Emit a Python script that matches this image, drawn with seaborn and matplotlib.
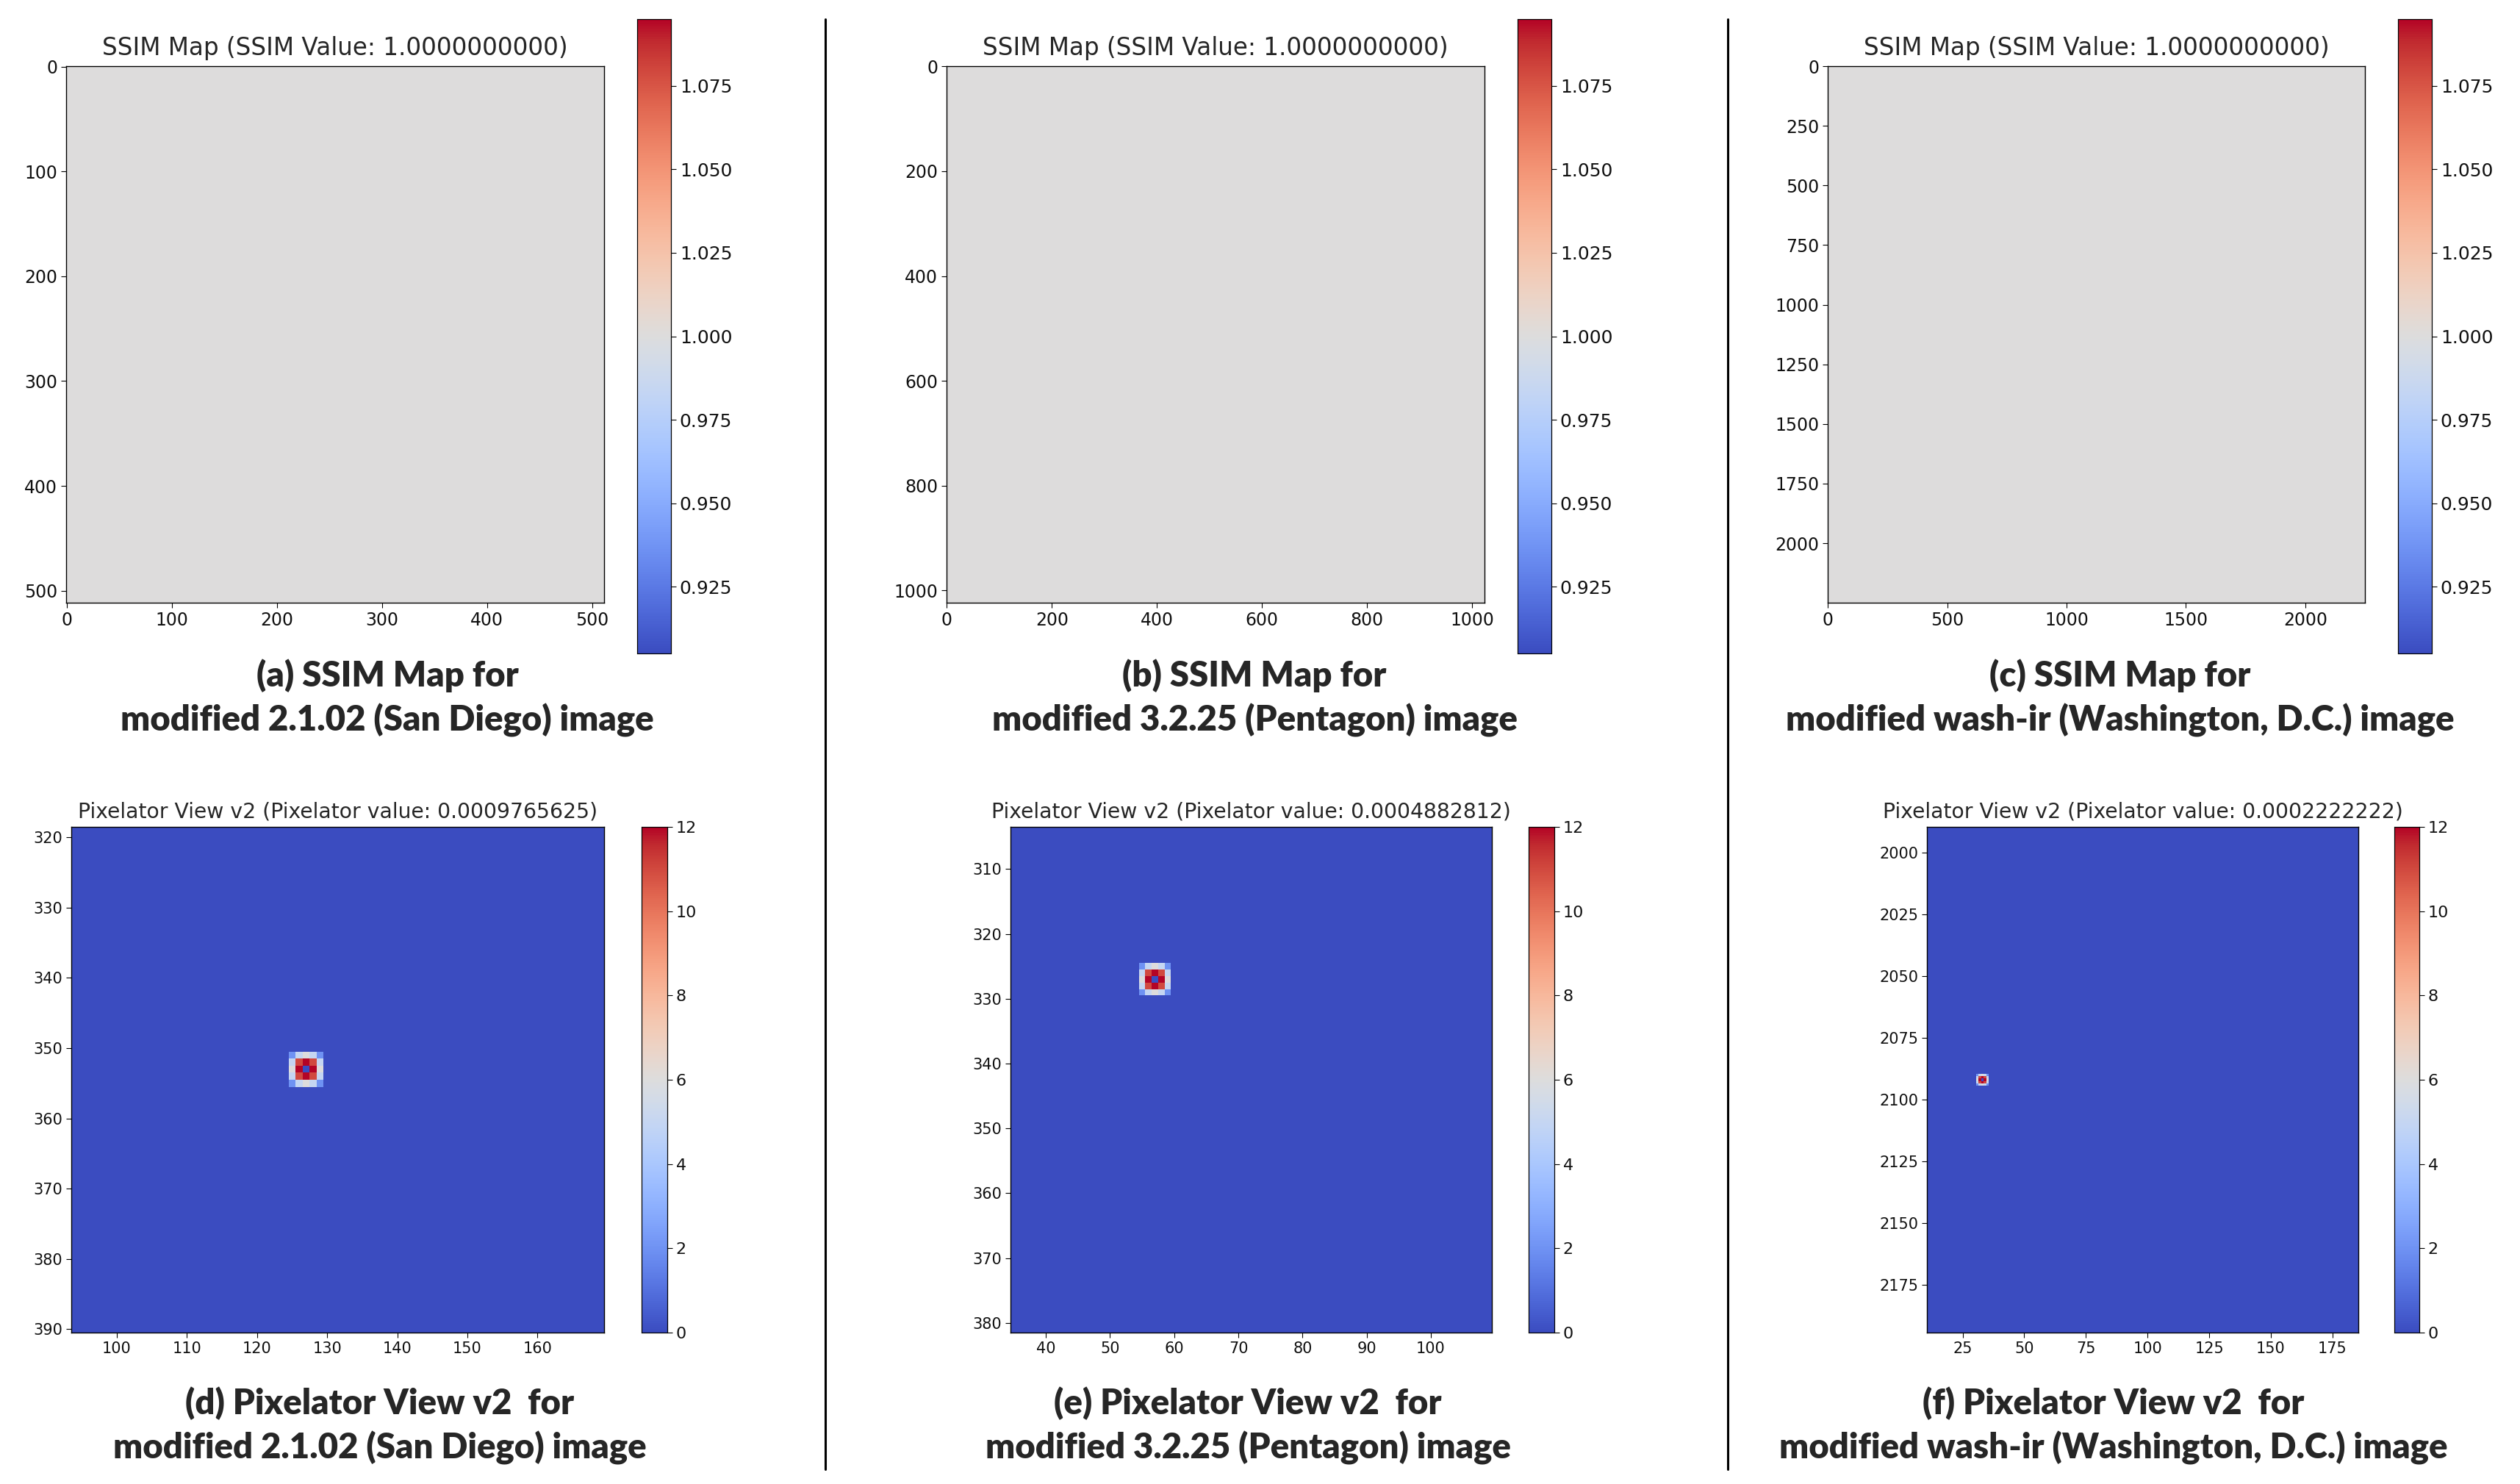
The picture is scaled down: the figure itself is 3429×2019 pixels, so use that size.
import numpy as np
import matplotlib
matplotlib.use("Agg")
from matplotlib import pyplot as plt
from matplotlib.lines import Line2D
import seaborn as sns

# ---- data ----
# top row: SSIM maps (the whole map is one value)
SSIM_VALUES = [1.0, 1.0, 1.0]
SSIM_SIZES = [512, 1024, 2250]
SSIM_XTICKS = [[0, 100, 200, 300, 400, 500],
               [0, 200, 400, 600, 800, 1000],
               [0, 500, 1000, 1500, 2000]]
SSIM_YTICKS = [[0, 100, 200, 300, 400, 500],
               [0, 200, 400, 600, 800, 1000],
               [0, 250, 500, 750, 1000, 1250, 1500, 1750, 2000]]
SSIM_CBAR_TICKS = [0.925, 0.950, 0.975, 1.000, 1.025, 1.050, 1.075]
SSIM_RANGE = (0.905, 1.095)

# bottom row: Pixelator view crops, zero except a 5x5 spot
PIX_VALUES = ["0.0009765625", "0.0004882812", "0.0002222222"]
PIX_ROWS = [(319, 390), (304, 381), (1990, 2194)]
PIX_COLS = [(94, 169), (35, 109), (11, 185)]
PIX_CENTERS = [(353, 127), (327, 57), (2092, 33)]
HOTSPOT = [[2, 5, 6, 5, 2],
           [5, 11, 12, 11, 5],
           [6, 12, 0, 12, 6],
           [5, 11, 12, 11, 5],
           [2, 5, 6, 5, 2]]
PIX_XTICKS = [[100, 110, 120, 130, 140, 150, 160],
              [40, 50, 60, 70, 80, 90, 100],
              [25, 50, 75, 100, 125, 150, 175]]
PIX_YTICKS = [[320, 330, 340, 350, 360, 370, 380, 390],
              [310, 320, 330, 340, 350, 360, 370, 380],
              [2000, 2025, 2050, 2075, 2100, 2125, 2150, 2175]]
PIX_CBAR_TICKS = [0, 2, 4, 6, 8, 10, 12]
PIX_RANGE = (0, 12)

CAPTIONS_TOP = ["(a) SSIM Map for\nmodified 2.1.02 (San Diego) image",
                "(b) SSIM Map for\nmodified 3.2.25 (Pentagon) image",
                "(c) SSIM Map for\nmodified wash-ir (Washington, D.C.) image"]
CAPTIONS_BOT = ["(d) Pixelator View v2  for\nmodified 2.1.02 (San Diego) image",
                "(e) Pixelator View v2  for\nmodified 3.2.25 (Pentagon) image",
                "(f) Pixelator View v2  for\nmodified wash-ir (Washington, D.C.) image"]

# ---- layout (pixels of the 3429x2019 output) ----
W, H = 3429, 2019
TOP_AX_X = [(90, 822), (1288, 2020), (2487, 3218)]
TOP_AX_Y = (90, 820)
TOP_CB_X = [(867, 913), (2065, 2111), (3263, 3309)]
TOP_CB_Y = (26, 889)
BOT_AX_X = [(97, 822), (1375, 2030), (2622, 3209)]
BOT_AX_Y = (1125, 1813)
BOT_CB_X = [(873, 908), (2080, 2115), (3258, 3292)]
BOT_CB_Y = (1125, 1813)
CAP_X_TOP = [527, 1707, 2885]
CAP_X_BOT = [517, 1698, 2876]
CAP_Y_TOP, CAP_Y_BOT = 950, 1940
DIVIDERS_X = [1123, 2351]

sns.set_theme(style="ticks")
plt.rcParams['font.family'] = ['DejaVu Sans']


def rect(xr, yr):
    return [xr[0] / W, 1 - yr[1] / H, (xr[1] - xr[0]) / W, (yr[1] - yr[0]) / H]


def style_axes(ax, cax, fs):
    for sp in ax.spines.values():
        sp.set_visible(True)
        sp.set_color("black")
        sp.set_linewidth(1.0)
    ax.tick_params(length=5, width=0.8, color="black", labelsize=fs, labelcolor="#111111")
    cax.tick_params(length=5, width=0.8, color="black", labelsize=fs + 1, labelcolor="#111111")
    for sp in cax.spines.values():
        sp.set_visible(True)
        sp.set_linewidth(0.8)
        sp.set_color("black")


def set_ticks(ax, xt, yt, x0, y0):
    ax.set_xticks([v - x0 + 0.5 for v in xt])
    ax.set_xticklabels([str(v) for v in xt], rotation=0)
    ax.set_yticks([v - y0 + 0.5 for v in yt])
    ax.set_yticklabels([str(v) for v in yt], rotation=0)


def caption(x, y, s):
    fig.text(x / W, 1 - y / H, s, ha="center", va="center",
             family=["Lato", "DejaVu Sans"], weight="heavy", fontsize=34, linespacing=1.4)


fig = plt.figure(figsize=(W / 100, H / 100), dpi=100)

# top row
for i in range(3):
    ax = fig.add_axes(rect(TOP_AX_X[i], TOP_AX_Y))
    cax = fig.add_axes(rect(TOP_CB_X[i], TOP_CB_Y))
    n = SSIM_SIZES[i]
    ssim_map = np.full((n, n), SSIM_VALUES[i])
    sns.heatmap(ssim_map, ax=ax, cbar_ax=cax, cmap="coolwarm",
                vmin=SSIM_RANGE[0], vmax=SSIM_RANGE[1],
                xticklabels=False, yticklabels=False,
                cbar_kws={"ticks": SSIM_CBAR_TICKS, "format": "%.3f"})
    set_ticks(ax, SSIM_XTICKS[i], SSIM_YTICKS[i], 0, 0)
    style_axes(ax, cax, 17)
    ax.set_title(f"SSIM Map (SSIM Value: {SSIM_VALUES[i]:.10f})", fontsize=23.5, pad=11)
    caption(CAP_X_TOP[i], CAP_Y_TOP, CAPTIONS_TOP[i])

# bottom row
for i in range(3):
    ax = fig.add_axes(rect(BOT_AX_X[i], BOT_AX_Y))
    cax = fig.add_axes(rect(BOT_CB_X[i], BOT_CB_Y))
    r0, r1 = PIX_ROWS[i]
    c0, c1 = PIX_COLS[i]
    view = np.zeros((r1 - r0 + 1, c1 - c0 + 1))
    cr, cc = PIX_CENTERS[i]
    view[cr - r0 - 2:cr - r0 + 3, cc - c0 - 2:cc - c0 + 3] = HOTSPOT
    sns.heatmap(view, ax=ax, cbar_ax=cax, cmap="coolwarm",
                vmin=PIX_RANGE[0], vmax=PIX_RANGE[1],
                xticklabels=False, yticklabels=False,
                cbar_kws={"ticks": PIX_CBAR_TICKS, "format": "%d"})
    set_ticks(ax, PIX_XTICKS[i], PIX_YTICKS[i], c0, r0)
    style_axes(ax, cax, 15)
    ax.set_title(f"Pixelator View v2 (Pixelator value: {PIX_VALUES[i]})", fontsize=20.3, pad=9)
    caption(CAP_X_BOT[i], CAP_Y_BOT, CAPTIONS_BOT[i])

for x in DIVIDERS_X:
    fig.add_artist(Line2D([x / W, x / W], [1 - 26 / H, 1 - 1999 / H], color="black", lw=2.2))

fig.savefig("out.png", dpi=100, facecolor="white")
